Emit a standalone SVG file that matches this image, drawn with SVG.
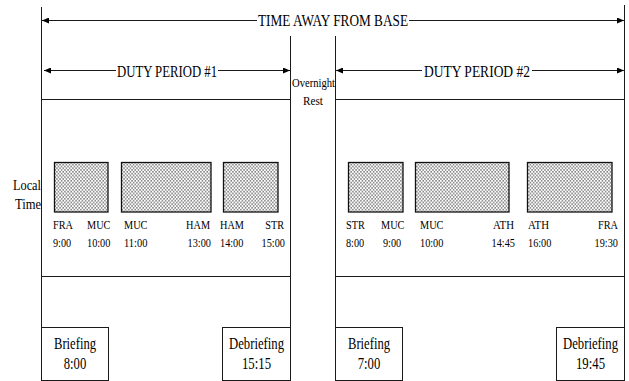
<svg xmlns="http://www.w3.org/2000/svg" width="629" height="381" viewBox="0 0 629 381">
<style>
text{font-family:"Liberation Serif","Times New Roman",serif;fill:#000}
.t{font-size:16px}
.s{font-size:13px}
.m{font-size:15px}
.o{font-size:13px}
.ln{stroke:#1a1a1a;stroke-width:1;fill:none}
.bx{stroke:#1a1a1a;stroke-width:1;fill:#fff}
.fl{stroke:#111;stroke-width:1.3;fill:url(#dots)}
.arr{stroke:#1a1a1a;stroke-width:1;fill:none;marker-end:url(#ah)}
.c{text-anchor:middle}
.e{text-anchor:end}
</style>
<defs>
<pattern id="dots" patternUnits="userSpaceOnUse" width="3.2" height="3.6">
<rect width="3.2" height="3.6" fill="#fff"/>
<rect x="0.3" y="0.3" width="1.1" height="1.1" fill="#000"/>
<rect x="1.9" y="2.1" width="1.1" height="1.1" fill="#000"/>
</pattern>
<marker id="ah" markerUnits="userSpaceOnUse" viewBox="0 0 7 6" markerWidth="7" markerHeight="6" refX="7" refY="3" orient="auto">
<path d="M0,0 L7,3 L0,6 Z" fill="#000"/>
</marker>
</defs>
<rect width="629" height="381" fill="#fff"/>

<g id="connectors">
<line class="ln" x1="41.5" y1="7" x2="41.5" y2="327.5"/>
<line class="ln" x1="290.5" y1="36" x2="290.5" y2="327.5"/>
<line class="ln" x1="335.5" y1="36" x2="335.5" y2="327.5"/>
<line class="ln" x1="624.5" y1="5" x2="624.5" y2="327.5"/>
<line class="arr" x1="257" y1="20.5" x2="42" y2="20.5"/>
<line class="arr" x1="409" y1="20.5" x2="624" y2="20.5"/>
<line class="arr" x1="116" y1="70.5" x2="44" y2="70.5"/>
<line class="arr" x1="218" y1="70.5" x2="290" y2="70.5"/>
<line class="arr" x1="422" y1="70.5" x2="336" y2="70.5"/>
<line class="arr" x1="532" y1="70.5" x2="624" y2="70.5"/>
</g>

<g id="labels-top">
<text class="t" x="258" y="26" textLength="150" lengthAdjust="spacingAndGlyphs">TIME AWAY FROM BASE</text>
<text class="t" x="117" y="76.5" textLength="100" lengthAdjust="spacingAndGlyphs">DUTY PERIOD #1</text>
<text class="t" x="424" y="76.5" textLength="106" lengthAdjust="spacingAndGlyphs">DUTY PERIOD #2</text>
<text class="o" x="292" y="87" textLength="43" lengthAdjust="spacingAndGlyphs">Overnight</text>
<text class="o" x="303" y="105" textLength="20" lengthAdjust="spacingAndGlyphs">Rest</text>
<text class="m e" x="41" y="190" textLength="28" lengthAdjust="spacingAndGlyphs">Local</text>
<text class="m e" x="41" y="208.5" textLength="26" lengthAdjust="spacingAndGlyphs">Time</text>
</g>

<g id="duty1">
<rect class="bx" x="41.5" y="99.5" width="249" height="177"/>
<rect class="fl" x="54.5" y="162.5" width="53.5" height="49.5"/>
<rect class="fl" x="121.5" y="162.5" width="89.5" height="49.5"/>
<rect class="fl" x="223.5" y="162.5" width="54.5" height="49.5"/>
<text class="s" x="53" y="228.5" textLength="20" lengthAdjust="spacingAndGlyphs">FRA</text>
<text class="s" x="87" y="228.5" textLength="23.4" lengthAdjust="spacingAndGlyphs">MUC</text>
<text class="s" x="124" y="228.5" textLength="23.4" lengthAdjust="spacingAndGlyphs">MUC</text>
<text class="s e" x="210" y="228.5" textLength="23.9" lengthAdjust="spacingAndGlyphs">HAM</text>
<text class="s" x="220" y="228.5" textLength="23.9" lengthAdjust="spacingAndGlyphs">HAM</text>
<text class="s e" x="284" y="228.5" textLength="18.8" lengthAdjust="spacingAndGlyphs">STR</text>
<text class="s" x="53" y="246.5" textLength="18.2" lengthAdjust="spacingAndGlyphs">9:00</text>
<text class="s" x="87" y="246.5" textLength="23.4" lengthAdjust="spacingAndGlyphs">10:00</text>
<text class="s" x="124" y="246.5" textLength="23.4" lengthAdjust="spacingAndGlyphs">11:00</text>
<text class="s e" x="211" y="246.5" textLength="23.4" lengthAdjust="spacingAndGlyphs">13:00</text>
<text class="s" x="220" y="246.5" textLength="23.4" lengthAdjust="spacingAndGlyphs">14:00</text>
<text class="s e" x="285" y="246.5" textLength="23.4" lengthAdjust="spacingAndGlyphs">15:00</text>
</g>

<g id="duty2">
<rect class="bx" x="335.5" y="99.5" width="289" height="177"/>
<rect class="fl" x="348.5" y="162.5" width="54.5" height="49.5"/>
<rect class="fl" x="415.5" y="162.5" width="93.5" height="49.5"/>
<rect class="fl" x="527.5" y="162.5" width="84.5" height="49.5"/>
<text class="s" x="346" y="228.5" textLength="18.8" lengthAdjust="spacingAndGlyphs">STR</text>
<text class="s" x="381" y="228.5" textLength="23.4" lengthAdjust="spacingAndGlyphs">MUC</text>
<text class="s" x="420" y="228.5" textLength="23.4" lengthAdjust="spacingAndGlyphs">MUC</text>
<text class="s e" x="514" y="228.5" textLength="21" lengthAdjust="spacingAndGlyphs">ATH</text>
<text class="s" x="528" y="228.5" textLength="21" lengthAdjust="spacingAndGlyphs">ATH</text>
<text class="s e" x="618" y="228.5" textLength="20" lengthAdjust="spacingAndGlyphs">FRA</text>
<text class="s" x="346" y="246.5" textLength="18.2" lengthAdjust="spacingAndGlyphs">8:00</text>
<text class="s" x="383" y="246.5" textLength="18.2" lengthAdjust="spacingAndGlyphs">9:00</text>
<text class="s" x="420" y="246.5" textLength="23.4" lengthAdjust="spacingAndGlyphs">10:00</text>
<text class="s e" x="515" y="246.5" textLength="23.4" lengthAdjust="spacingAndGlyphs">14:45</text>
<text class="s" x="528" y="246.5" textLength="23.4" lengthAdjust="spacingAndGlyphs">16:00</text>
<text class="s e" x="618" y="246.5" textLength="23.4" lengthAdjust="spacingAndGlyphs">19:30</text>
</g>

<g id="briefing1">
<rect class="bx" x="41.5" y="327.5" width="67" height="53"/>
<text class="t c" x="75" y="349" textLength="42" lengthAdjust="spacingAndGlyphs">Briefing</text>
<text class="t c" x="75" y="369" textLength="22.5" lengthAdjust="spacingAndGlyphs">8:00</text>
</g>
<g id="debriefing1">
<rect class="bx" x="222.5" y="327.5" width="68" height="53"/>
<text class="t c" x="256.5" y="349" textLength="55" lengthAdjust="spacingAndGlyphs">Debriefing</text>
<text class="t c" x="256.5" y="369" textLength="29" lengthAdjust="spacingAndGlyphs">15:15</text>
</g>
<g id="briefing2">
<rect class="bx" x="335.5" y="327.5" width="67" height="53"/>
<text class="t c" x="369" y="349" textLength="42" lengthAdjust="spacingAndGlyphs">Briefing</text>
<text class="t c" x="369" y="369" textLength="22.5" lengthAdjust="spacingAndGlyphs">7:00</text>
</g>
<g id="debriefing2">
<rect class="bx" x="556.5" y="327.5" width="68" height="53"/>
<text class="t c" x="590.5" y="349" textLength="55" lengthAdjust="spacingAndGlyphs">Debriefing</text>
<text class="t c" x="590.5" y="369" textLength="29" lengthAdjust="spacingAndGlyphs">19:45</text>
</g>
</svg>
